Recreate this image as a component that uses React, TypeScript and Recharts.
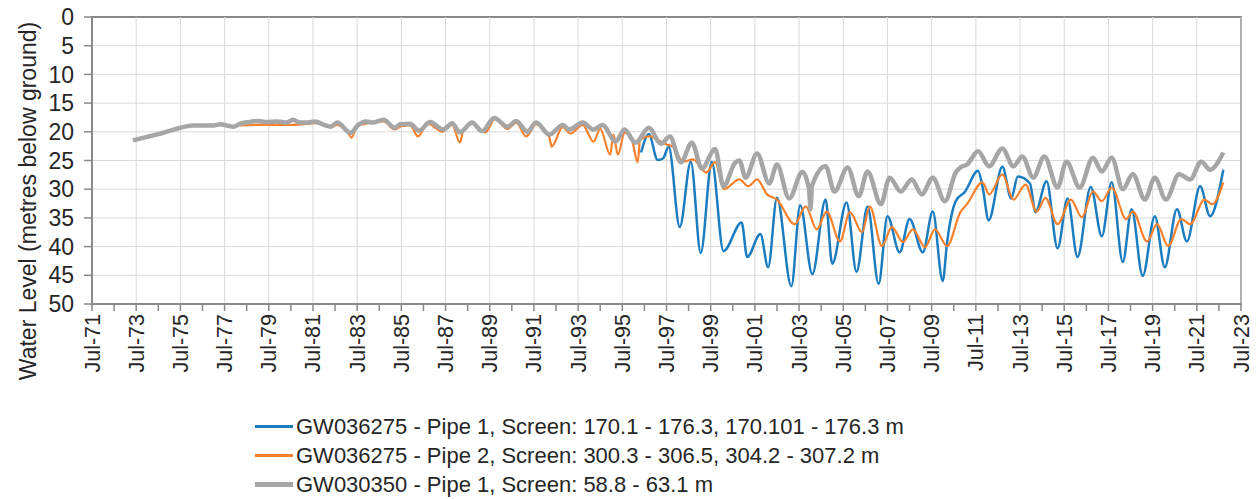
import React from "react";
import {
  CartesianGrid,
  Legend,
  Line,
  LineChart,
  ReferenceArea,
  ReferenceLine,
  XAxis,
  YAxis,
} from "recharts";

// [decimal year, metres below ground]
const pipe1Levels: [number, number][] = [
  [1996.35, 23.6], [1996.7, 20.4], [1997.1, 24.9], [1997.35, 24.6], [1997.6, 22.6],
  [1998.1, 36.6], [1998.6, 25.2], [1999.05, 41.1], [1999.55, 25.2], [2000.08, 40.8],
  [2000.9, 35.8], [2001.15, 41.8], [2001.75, 37.8], [2002.1, 43.6], [2002.5, 31.5],
  [2003.15, 46.9], [2003.55, 32.8], [2004.1, 44.8], [2004.7, 31.8], [2005.0, 43],
  [2005.65, 32.3], [2006.1, 44.4], [2006.6, 33], [2007.1, 46.5], [2007.5, 34.7],
  [2008.05, 41], [2008.5, 35.2], [2009.1, 41], [2009.55, 33.9], [2010.0, 46],
  [2010.2, 39.2], [2010.6, 32], [2011.0, 30.5], [2011.6, 26.8], [2011.8, 29.5],
  [2012.08, 35.4], [2012.7, 26.1], [2013.1, 31.6], [2013.4, 27.8], [2013.95, 29],
  [2014.2, 34], [2014.7, 28.6], [2015.2, 40.3], [2015.65, 31.6], [2016.1, 41.8],
  [2016.7, 29.6], [2017.2, 38.2], [2017.65, 28.8], [2018.15, 42.7], [2018.55, 33.5],
  [2019.05, 45.1], [2019.6, 34.7], [2020.05, 43.6], [2020.6, 33.5], [2021.05, 39.1],
  [2021.65, 29.5], [2022.1, 34.7], [2022.7, 26.6],
];

const pipe2Levels: [number, number][] = [
  [1978.2, 18.9], [1979.0, 18.8], [1980.0, 18.8], [1981.0, 18.7], [1981.6, 18.5],
  [1982.3, 19.2], [1982.6, 18.8], [1983.1, 20.3], [1983.25, 21.0], [1983.5, 19.0],
  [1984.0, 18.5], [1984.7, 18.2], [1985.2, 19.6], [1985.5, 19.0], [1985.9, 18.9],
  [1986.25, 20.8], [1986.7, 18.6], [1987.35, 20.0], [1987.8, 18.8], [1988.15, 21.9],
  [1988.3, 19.8], [1988.75, 18.6], [1989.3, 20.1], [1989.75, 17.7], [1990.3, 19.5],
  [1990.7, 18.4], [1991.15, 20.8], [1991.6, 18.7], [1992.2, 21.0], [1992.3, 22.6],
  [1992.8, 19.2], [1993.15, 20.3], [1993.7, 18.8], [1994.2, 21.7], [1994.5, 19.5],
  [1994.95, 24.0], [1995.1, 20.5], [1995.3, 24.0], [1995.6, 20.2], [1995.9, 21.0],
  [1996.2, 25.3], [1996.3, 21.4], [1996.7, 20.8], [1997.5, 22.2], [1997.8, 22.6],
  [1998.25, 25.2], [1998.7, 24.8], [1999.3, 27.1], [1999.7, 25.3], [2000.1, 30],
  [2000.8, 28.3], [2001.2, 29.5], [2001.6, 28.3], [2002.05, 30.9], [2002.5, 31.8],
  [2003.3, 36.1], [2003.8, 33], [2004.3, 37], [2004.75, 33.9], [2005.35, 39.1],
  [2005.8, 34], [2006.35, 37.5], [2006.7, 33], [2007.25, 39.9], [2007.7, 36.6],
  [2008.2, 39.2], [2008.65, 37], [2009.2, 40.1], [2009.65, 37], [2010.2, 39.9],
  [2010.8, 34], [2011.1, 32.6], [2011.8, 28.8], [2012.1, 30.9], [2012.7, 27.4],
  [2013.2, 31.8], [2013.75, 29.2], [2014.25, 33.9], [2014.65, 31.5], [2015.2, 36.1],
  [2015.8, 31.8], [2016.3, 34.9], [2016.8, 30.4], [2017.2, 32.1], [2017.65, 29.7],
  [2018.3, 35.2], [2018.6, 33.9], [2019.25, 39.1], [2019.7, 36.1], [2020.2, 39.9],
  [2020.8, 35.2], [2021.2, 36.1], [2021.85, 31.8], [2022.2, 32.6], [2022.7, 28.8],
];

const gw030350Levels: [number, number][] = [
  [1973.35, 21.5], [1974.7, 20.2], [1976.1, 18.9], [1977.0, 18.9], [1977.3, 18.7],
  [1977.6, 18.9], [1977.9, 19.1], [1978.2, 18.6], [1978.6, 18.3], [1979.0, 18.1],
  [1979.4, 18.3], [1979.9, 18.2], [1980.3, 18.4], [1980.6, 17.9], [1980.9, 18.4],
  [1981.2, 18.4], [1981.6, 18.2], [1982.0, 18.8], [1982.3, 19.1], [1982.6, 18.4],
  [1983.2, 20.2], [1983.55, 18.8], [1983.9, 18.2], [1984.2, 18.4], [1984.7, 17.9],
  [1985.2, 19.3], [1985.44, 18.7], [1985.9, 18.6], [1986.3, 19.8], [1986.8, 18.3],
  [1987.4, 19.6], [1987.8, 18.5], [1988.15, 20.1], [1988.7, 18.4], [1989.15, 19.9],
  [1989.7, 17.6], [1990.3, 19.1], [1990.7, 18.1], [1991.2, 20.0], [1991.6, 18.4],
  [1992.2, 20.5], [1992.8, 18.8], [1993.1, 19.6], [1993.7, 18.4], [1994.2, 19.6],
  [1994.6, 18.8], [1995.2, 21.7], [1995.6, 19.6], [1996.1, 21.9], [1996.7, 19.3],
  [1997.25, 22.1], [1997.65, 20.8], [1998.15, 25.3], [1998.65, 21.9], [1999.1, 26.4],
  [1999.7, 23.0], [2000.08, 29.5], [2000.6, 25.4], [2000.8, 25.0], [2001.08, 28.0],
  [2001.6, 23.8], [2002.15, 29.0], [2002.5, 25.7], [2003.05, 31.6], [2003.65, 27.0],
  [2003.95, 30], [2004.02, 33.5], [2004.08, 29.5], [2004.7, 26], [2005.1, 30.4],
  [2005.7, 26.2], [2006.2, 31.2], [2006.6, 26.9], [2007.2, 32.6], [2007.6, 28],
  [2008.1, 30.4], [2008.6, 28.3], [2009.05, 30.9], [2009.55, 28], [2010.1, 32.1],
  [2010.6, 27.0], [2010.8, 26.2], [2011.1, 25.7], [2011.6, 23.4], [2012.1, 26],
  [2012.7, 22.9], [2013.2, 26], [2013.6, 24.3], [2014.1, 28], [2014.6, 24.3],
  [2015.2, 29.7], [2015.6, 25.2], [2016.2, 29.7], [2016.8, 24.5], [2017.2, 26.9],
  [2017.65, 24.5], [2018.15, 30], [2018.6, 27.4], [2019.15, 31.8], [2019.6, 28],
  [2020.1, 31.8], [2020.7, 27.4], [2021.2, 28.3], [2021.7, 25.2], [2022.1, 26.6],
  [2022.7, 23.6],
];

const tickYears = [
  1971, 1972, 1973, 1974, 1975, 1976, 1977, 1978, 1979, 1980, 1981, 1982, 1983,
  1984, 1985, 1986, 1987, 1988, 1989, 1990, 1991, 1992, 1993, 1994, 1995, 1996,
  1997, 1998, 1999, 2000, 2001, 2002, 2003, 2004, 2005, 2006, 2007, 2008, 2009,
  2010, 2011, 2012, 2013, 2014, 2015, 2016, 2017, 2018, 2019, 2020, 2021, 2022,
  2023,
];
const labelYears = [
  1971, 1973, 1975, 1977, 1979, 1981, 1983, 1985, 1987, 1989, 1991, 1993, 1995,
  1997, 1999, 2001, 2003, 2005, 2007, 2009, 2011, 2013, 2015, 2017, 2019, 2021,
  2023,
];
const depthTicks = [0, 5, 10, 15, 20, 25, 30, 35, 40, 45, 50];

const series = [
  { key: "p1", name: "GW036275 - Pipe 1, Screen: 170.1 - 176.3, 170.101 - 176.3 m", color: "#1b7dc0", width: 2.5, data: pipe1Levels },
  { key: "p2", name: "GW036275 - Pipe 2, Screen: 300.3 - 306.5, 304.2 - 307.2 m", color: "#f7812d", width: 2.2, data: pipe2Levels },
  { key: "g1", name: "GW030350 - Pipe 1, Screen: 58.8 - 63.1 m", color: "#a6a6a6", width: 4.5, data: gw030350Levels },
];

const FONT = "'Liberation Sans', Arial, sans-serif";
const AXIS = "#898989";
const GRID = "#d9d9d9";
const TEXT = "#262626";

const toRows = (pts: [number, number][]) => pts.map(([year, depth]) => ({ year, depth }));

function XTick(props: any) {
  const { x, y, payload } = props;
  const yr = Math.floor(payload.value);
  if (!labelYears.includes(yr)) return <g />;
  return (
    <text
      x={x}
      y={y}
      transform={`rotate(-90 ${x} ${y})`}
      textAnchor="end"
      dy="0.35em"
      fontSize={21.5}
      fontFamily={FONT}
      fill={TEXT}
    >
      {`Jul-${String(yr % 100).padStart(2, "0")}`}
    </text>
  );
}

function LegendBox() {
  return (
    <div style={{ marginLeft: 255, fontFamily: FONT, fontSize: 22, color: TEXT }}>
      {series.map((s) => (
        <div key={s.key} style={{ display: "flex", alignItems: "center", height: 29 }}>
          <div style={{ width: 38, height: s.width, background: s.color, marginRight: 3 }} />
          <span style={{ whiteSpace: "nowrap" }}>{s.name}</span>
        </div>
      ))}
    </div>
  );
}

export default function App() {
  return (
    <div style={{ position: "absolute", left: 0, top: 0 }}>
      <LineChart width={1258} height={499} margin={{ top: 17, right: 17, bottom: 0, left: 0 }}>
        <CartesianGrid vertical={false} stroke={GRID} />
        {labelYears.map((y) => (
          <ReferenceLine key={y} x={y + 0.5} stroke={GRID} strokeWidth={1} />
        ))}
        <XAxis
          dataKey="year"
          type="number"
          domain={[1971.5, 2023.5]}
          ticks={tickYears.map((y) => y + 0.5)}
          allowDataOverflow
          interval={0}
          height={108}
          tickSize={7}
          tickMargin={3}
          tickLine={{ stroke: AXIS, strokeWidth: 1.5 }}
          axisLine={{ stroke: AXIS, strokeWidth: 2 }}
          tick={<XTick />}
        />
        <YAxis
          type="number"
          reversed
          domain={[0, 50]}
          ticks={depthTicks}
          interval={0}
          width={92}
          tickSize={8}
          tickMargin={10}
          tickLine={{ stroke: AXIS, strokeWidth: 1.5 }}
          axisLine={{ stroke: AXIS, strokeWidth: 2 }}
          tick={{ fontSize: 23, fontFamily: FONT, fill: TEXT }}
          label={{
            content: () => (
              <text
                x={28}
                y={201}
                transform="rotate(-90 28 201)"
                textAnchor="middle"
                dominantBaseline="central"
                fontSize={23}
                fontFamily={FONT}
                fill={TEXT}
              >
                Water Level (metres below ground)
              </text>
            ),
          }}
        />
        {series.map((s) => (
          <Line
            key={s.key}
            data={toRows(s.data)}
            dataKey="depth"
            name={s.name}
            type="monotone"
            stroke={s.color}
            strokeWidth={s.width}
            dot={false}
            activeDot={false}
            isAnimationActive={false}
          />
        ))}
        <ReferenceArea x1={1971.5} x2={2023.5} y1={0} y2={50} fill="none" stroke={AXIS} strokeWidth={2} ifOverflow="visible" />
        <Legend verticalAlign="bottom" align="left" content={<LegendBox />} />
      </LineChart>
    </div>
  );
}
